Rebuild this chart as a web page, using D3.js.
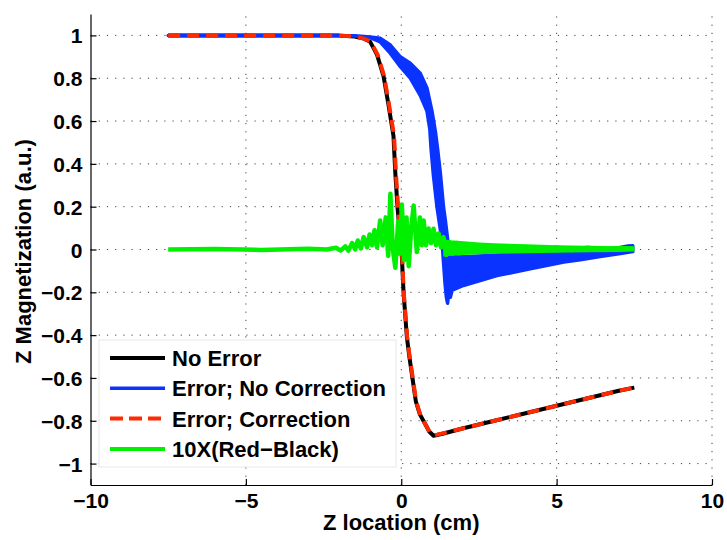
<!DOCTYPE html>
<html>
<head>
<meta charset="utf-8">
<script src="https://cdn.jsdelivr.net/npm/d3@7"></script>
<style>
  body { margin: 0; background: #fff; }
  svg { display: block; font-family: "Liberation Sans", Arial, Helvetica, sans-serif; font-weight: bold; }
</style>
</head>
<body>
<div class="panel"></div>
<script>
const width = 727;
const height = 540;

// tick values and labels
const xTicks = [-10, -5, 0, 5, 10];
const xTickLabels = ["\u221210", "\u22125", "0", "5", "10"];
const yTicks = [1, 0.8, 0.6, 0.4, 0.2, 0, -0.2, -0.4, -0.6, -0.8, -1];
const yTickLabels = ["1", "0.8", "0.6", "0.4", "0.2", "0", "\u22120.2", "\u22120.4", "\u22120.6", "\u22120.8", "\u22121"];

// No Error (black)
const blackZ = [-7.5, -3, -2, -1.5, -1.2, -1.0, -0.78, -0.57, -0.41, -0.25, -0.19, -0.12, -0.03, 0.02, 0.074, 0.18, 0.26, 0.37, 0.47, 0.6, 0.77, 0.9, 1.04, 1.3, 2, 3, 4, 5, 6, 7, 7.5];
const blackM = [1, 1, 0.999, 0.995, 0.985, 0.97, 0.91, 0.81, 0.675, 0.53, 0.354, 0.198, 0.042, -0.036, -0.2, -0.407, -0.5, -0.61, -0.71, -0.77, -0.815, -0.85, -0.87, -0.862, -0.835, -0.8, -0.765, -0.73, -0.695, -0.66, -0.645];

// Error; Correction (red dashed)
const redZ = [-7.5, -3, -2, -1.5, -1.2, -0.98, -0.76, -0.55, -0.39, -0.23, -0.17, -0.1, -0.02, 0.03, 0.08, 0.19, 0.27, 0.38, 0.48, 0.62, 0.79, 0.92, 1.06, 1.3, 2, 3, 4, 5, 6, 7, 7.5];
const redM = [1, 1, 0.999, 0.995, 0.985, 0.97, 0.91, 0.81, 0.675, 0.53, 0.354, 0.198, 0.042, -0.036, -0.2, -0.407, -0.5, -0.61, -0.71, -0.775, -0.82, -0.855, -0.868, -0.86, -0.835, -0.8, -0.765, -0.73, -0.695, -0.66, -0.645];

// Error; No Correction (blue) - dense oscillation, read as upper / lower envelope
const blueUpZ = [-7.5, -2.0, -1.5, -1.0, -0.68, -0.35, -0.03, 0.29, 0.61, 0.83, 0.99, 1.1, 1.17, 1.26, 1.36, 1.42, 1.5, 1.56, 1.8, 2.5, 3.5, 4.5, 5.5, 6.5, 7.0, 7.3, 7.45];
const blueUpM = [1.0, 1.0, 0.998, 0.993, 0.987, 0.955, 0.9, 0.87, 0.823, 0.753, 0.645, 0.55, 0.47, 0.354, 0.198, 0.136, 0.04, -0.025, -0.035, -0.03, -0.022, -0.015, -0.008, 0.0, 0.008, 0.016, 0.018];
const blueLoZ = [-7.5, -2.0, -1.5, -1.0, -0.68, -0.35, -0.03, 0.29, 0.61, 0.83, 0.92, 0.96, 1.03, 1.15, 1.31, 1.36, 1.41, 1.45, 1.49, 1.53, 1.58, 1.64, 2.0, 2.54, 3.08, 4.15, 5.23, 5.76, 6.4, 7.0, 7.45];
const blueLoM = [1.0, 1.0, 0.997, 0.99, 0.97, 0.916, 0.854, 0.8, 0.72, 0.645, 0.56, 0.47, 0.354, 0.198, 0.042, -0.06, -0.16, -0.22, -0.251, -0.2, -0.223, -0.19, -0.168, -0.145, -0.122, -0.09, -0.059, -0.048, -0.033, -0.02, -0.01];

// 10X(Red-Black) (green)
const greenZ = [-7.5, -6, -4.5, -3, -2.4, -2.1, -1.95, -1.8, -1.7, -1.58, -1.48, -1.4, -1.3, -1.21, -1.1, -1.02, -0.94, -0.86, -0.78, -0.68, -0.6, -0.5, -0.42, -0.35, -0.27, -0.19, -0.1, -0.04, 0.02, 0.1, 0.17, 0.24, 0.32, 0.4, 0.5, 0.6, 0.66, 0.72, 0.8, 0.88, 0.96, 1.04, 1.12, 1.2, 1.28, 1.36, 1.45, 1.55, 1.65, 1.8, 1.95, 2.1, 2.3, 2.5, 2.8, 3.1, 3.5, 4, 4.5, 5, 5.5, 6, 6.5, 7, 7.5];
const greenM = [0, 0.002, -0.002, 0.003, 0, 0.008, -0.005, 0.015, -0.005, 0.03, 0, 0.042, 0.005, 0.058, 0.01, 0.07, 0.02, 0.09, 0.01, 0.135, 0.02, 0.15, -0.03, 0.26, 0, -0.085, 0.13, -0.02, 0.21, -0.05, 0.15, -0.078, 0.1, 0.205, -0.012, 0.15, 0.02, 0.136, 0.02, 0.098, 0.03, 0.097, 0.02, 0.075, 0.01, 0.058, -0.025, 0.034, -0.02, 0.03, -0.015, 0.025, -0.01, 0.02, -0.005, 0.015, -0.005, 0.012, -0.003, 0.01, -0.002, 0.008, 0, 0.006, 0.005];
// green tail fuzz envelope
const greenBandZ = [1.4, 1.6, 2.0, 2.5, 3.0, 4.0, 5.0, 6.0, 7.0, 7.45];
const greenBandUp = [0.04, 0.036, 0.031, 0.026, 0.022, 0.017, 0.013, 0.01, 0.008, 0.007];
const greenBandLo = [-0.025, -0.022, -0.019, -0.015, -0.013, -0.01, -0.008, -0.006, -0.005, -0.003];

const legendNames = ["No Error", "Error; No Correction", "Error; Correction", "10X(Red\u2212Black)"];
const colors = {black: "#000000", blue: "#0a33ff", red: "#ff2a00", green: "#00f000"};

const svg = d3.select(".panel").append("svg")
  .attr("width", width)
  .attr("height", height);

const x = d3.scaleLinear().domain([-10, 10]).range([90.5, 712]);
const y = d3.scaleLinear().domain([-1.1, 1.1]).range([485, 14]);

// grid
const grid = svg.append("g");
grid.selectAll(".hg")
  .data(yTicks)
  .enter()
  .append("line")
  .attr("x1", x(-10)).attr("x2", x(10))
  .attr("y1", d => y(d)).attr("y2", d => y(d))
  .attr("stroke", "#444").attr("stroke-width", 1)
  .attr("stroke-dasharray", "1.2,7");
grid.selectAll(".vg")
  .data(xTicks.slice(1))
  .enter()
  .append("line")
  .attr("x1", d => x(d)).attr("x2", d => x(d))
  .attr("y1", y(-1.1)).attr("y2", y(1.1))
  .attr("stroke", "#444").attr("stroke-width", 1)
  .attr("stroke-dasharray", "1.2,7");

// axes
const xAxis = d3.axisBottom(x).tickValues(xTicks).tickFormat((d, i) => xTickLabels[i]).tickSizeInner(-6).tickSizeOuter(0).tickPadding(8);
const yAxis = d3.axisLeft(y).tickValues(yTicks).tickFormat((d, i) => yTickLabels[i]).tickSizeInner(-6).tickSizeOuter(0).tickPadding(8);

const gx = svg.append("g").attr("transform", `translate(0, ${y(-1.1)})`).call(xAxis);
const gy = svg.append("g").attr("transform", `translate(${x(-10)}, 0)`).call(yAxis);
[gx, gy].forEach(g => {
  g.attr("font-family", null).attr("font-size", null);
  g.selectAll("text").style("font-size", "21px").style("font-weight", "bold").attr("fill", "#000");
  g.selectAll("line, path").attr("stroke", "#000").attr("stroke-width", 1.2);
});
gy.selectAll("text").attr("dy", "0.36em");

// axis titles
svg.append("text")
  .attr("x", x(0)).attr("y", 530)
  .attr("text-anchor", "middle")
  .style("font-size", "22px")
  .text("Z location (cm)");
svg.append("text")
  .attr("transform", `translate(31, ${y(0) + 2}) rotate(-90)`)
  .attr("text-anchor", "middle")
  .style("font-size", "22px")
  .text("Z Magnetization (a.u.)");

const line = d3.line().x(d => x(d[0])).y(d => y(d[1]));
const zip = (a, b) => a.map((v, i) => [v, b[i]]);

const plot = svg.append("g");

// black
plot.append("path")
  .attr("d", line(zip(blackZ, blackM)))
  .attr("fill", "none").attr("stroke", colors.black).attr("stroke-width", 4)
  .attr("stroke-linejoin", "round");

// blue band
const bluePoly = zip(blueUpZ, blueUpM).concat(zip(blueLoZ, blueLoM).reverse());
plot.append("path")
  .attr("d", line(bluePoly) + "Z")
  .attr("fill", colors.blue).attr("stroke", colors.blue).attr("stroke-width", 3.5)
  .attr("stroke-linejoin", "round");

// red dashed
plot.append("path")
  .attr("d", line(zip(redZ, redM)))
  .attr("fill", "none").attr("stroke", colors.red).attr("stroke-width", 4)
  .attr("stroke-dasharray", "12,7")
  .attr("stroke-linejoin", "round");

// green
const greenPoly = zip(greenBandZ, greenBandUp).concat(zip(greenBandZ, greenBandLo).reverse());
plot.append("path")
  .attr("d", line(greenPoly) + "Z")
  .attr("fill", colors.green).attr("stroke", colors.green).attr("stroke-width", 3);
plot.append("path")
  .attr("d", line(zip(greenZ, greenM)))
  .attr("fill", "none").attr("stroke", colors.green).attr("stroke-width", 4.5)
  .attr("stroke-linejoin", "round");

// legend
const legend = svg.append("g").attr("transform", "translate(99, 340)");
legend.append("rect")
  .attr("width", 297).attr("height", 127)
  .attr("fill", "#fff").attr("stroke", "#e8e8e8").attr("stroke-width", 1);
const legendColors = [colors.black, colors.blue, colors.red, colors.green];
legendNames.forEach((name, i) => {
  const cy = 18 + i * 30.3;
  legend.append("line")
    .attr("x1", 11).attr("x2", 66)
    .attr("y1", cy).attr("y2", cy)
    .attr("stroke", legendColors[i]).attr("stroke-width", i === 1 ? 3.5 : 4)
    .attr("stroke-dasharray", i === 2 ? "13,6" : null);
  legend.append("text")
    .attr("x", 73).attr("y", cy)
    .attr("dy", "0.36em")
    .style("font-size", "22px")
    .text(name);
});
</script>
</body>
</html>
